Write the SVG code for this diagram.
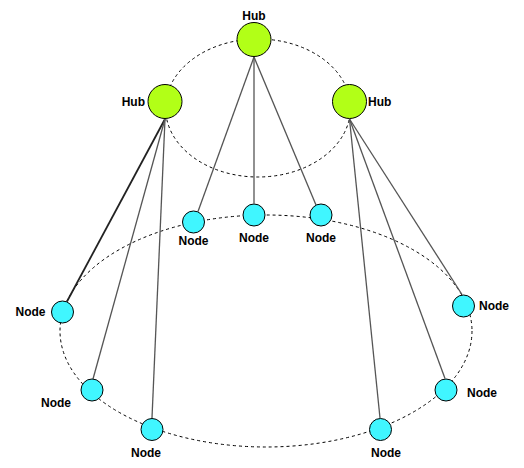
<svg xmlns="http://www.w3.org/2000/svg" width="524" height="468" viewBox="0 0 524 468">
<style>
.ring{fill:none;stroke:#000;stroke-width:1;stroke-dasharray:3 3}
.ln{stroke:#555;stroke-width:1.3;fill:none}
.hub{fill:#B2FF17;stroke:#000;stroke-width:1}
.node{fill:#40F6FF;stroke:#000;stroke-width:1}
text{font-family:"Liberation Sans",Arial,sans-serif;font-size:12px;font-weight:bold;fill:#000}
</style>
<rect width="524" height="468" fill="#fff"/>
<g id="connectors">
<ellipse class="ring" cx="258" cy="108" rx="92.5" ry="69"/>
<ellipse class="ring" cx="266" cy="331" rx="206" ry="116"/>
<line class="ln" x1="254" y1="57" x2="198" y2="211.5"/>
<line class="ln" x1="254" y1="57" x2="254" y2="203.5"/>
<line class="ln" x1="254" y1="57" x2="316" y2="205"/>
<line class="ln" x1="165" y1="119" x2="67" y2="301.5" style="stroke:#222;stroke-width:1.8"/>
<line class="ln" x1="165" y1="119" x2="93" y2="379"/>
<line class="ln" x1="165" y1="119" x2="152" y2="418"/>
<line class="ln" x1="349.5" y1="119" x2="380" y2="418"/>
<line class="ln" x1="349.5" y1="119" x2="445" y2="378.5"/>
<line class="ln" x1="349.5" y1="119" x2="462" y2="294.5"/>
</g>
<g id="hub-top"><circle class="hub" cx="254" cy="39.5" r="17"/><text x="254" y="20" text-anchor="middle">Hub</text></g>
<g id="hub-left"><circle class="hub" cx="165" cy="101.5" r="17"/><text x="145" y="105.5" text-anchor="end">Hub</text></g>
<g id="hub-right"><circle class="hub" cx="349.5" cy="101.5" r="17"/><text x="368" y="105.5">Hub</text></g>
<g id="node-t1"><circle class="node" cx="193.5" cy="222" r="11"/><text x="193.5" y="244.5" text-anchor="middle">Node</text></g>
<g id="node-t2"><circle class="node" cx="254" cy="215" r="11"/><text x="254" y="241.5" text-anchor="middle">Node</text></g>
<g id="node-t3"><circle class="node" cx="321" cy="215" r="11"/><text x="321" y="241.5" text-anchor="middle">Node</text></g>
<g id="node-l1"><circle class="node" cx="62.5" cy="312" r="11"/><text x="45.5" y="315.5" text-anchor="end">Node</text></g>
<g id="node-l2"><circle class="node" cx="92" cy="390" r="11"/><text x="56" y="407" text-anchor="middle">Node</text></g>
<g id="node-l3"><circle class="node" cx="152" cy="429.5" r="11"/><text x="146" y="456.5" text-anchor="middle">Node</text></g>
<g id="node-r1"><circle class="node" cx="463.5" cy="306" r="11"/><text x="479" y="309.5">Node</text></g>
<g id="node-r2"><circle class="node" cx="446" cy="390" r="11"/><text x="467" y="396.5">Node</text></g>
<g id="node-r3"><circle class="node" cx="380.5" cy="429.5" r="11"/><text x="386" y="456.5" text-anchor="middle">Node</text></g>
</svg>
